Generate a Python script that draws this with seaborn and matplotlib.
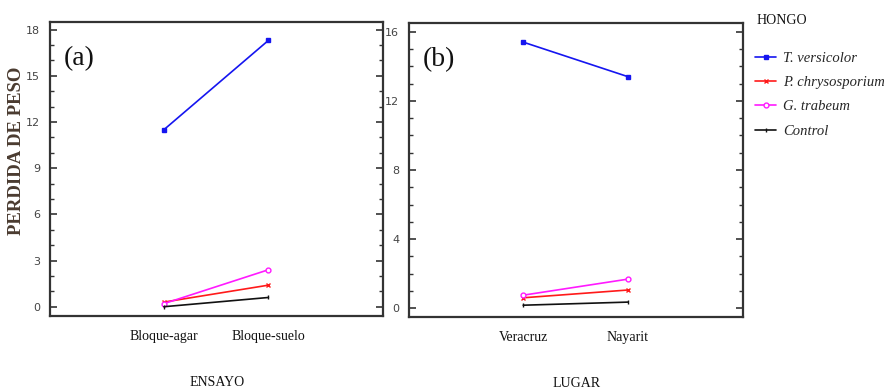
import pandas as pd
import matplotlib.pyplot as plt
import seaborn as sns
from matplotlib.ticker import MultipleLocator

# Data
hongos = ['T. versicolor', 'P. chrysosporium', 'G. trabeum', 'Control']
ensayos = ['Bloque-agar', 'Bloque-suelo']
lugares = ['Veracruz', 'Nayarit']

# (a) PERDIDA DE PESO by ENSAYO
ensayo_tv = [11.5, 17.3]
ensayo_pc = [0.3, 1.4]
ensayo_gt = [0.2, 2.4]
ensayo_ctrl = [0.0, 0.6]

# (b) PERDIDA DE PESO by LUGAR
lugar_tv = [15.4, 13.4]
lugar_pc = [0.6, 1.05]
lugar_gt = [0.75, 1.68]
lugar_ctrl = [0.17, 0.35]

colors = {'T. versicolor': '#1515f0', 'P. chrysosporium': '#ff1a1a',
          'G. trabeum': '#ff1aff', 'Control': '#111111'}
markers = {'T. versicolor': 's', 'P. chrysosporium': 'x',
           'G. trabeum': 'o', 'Control': '|'}


def build_df(cats, series, col):
    rows = []
    for h, vals in zip(hongos, series):
        for c, v in zip(cats, vals):
            rows.append({col: c, 'HONGO': h, 'PERDIDA DE PESO': v})
    return pd.DataFrame(rows)


df_a = build_df(ensayos, [ensayo_tv, ensayo_pc, ensayo_gt, ensayo_ctrl], 'ENSAYO')
df_b = build_df(lugares, [lugar_tv, lugar_pc, lugar_gt, lugar_ctrl], 'LUGAR')

sns.set_style("white")
plt.rcParams['font.family'] = ['DejaVu Sans']

fig = plt.figure(figsize=(8.84, 3.92), dpi=100)
ax1 = fig.add_axes([0.0566, 0.194, 0.377, 0.750])
ax2 = fig.add_axes([0.4627, 0.191, 0.378, 0.750])

serif = ['Liberation Serif', 'DejaVu Serif']
tick_col = '#444444'
spine_col = '#333333'


def draw(ax, df, col, ylim, major, label):
    for h in hongos:
        sub = df[df['HONGO'] == h]
        face = 'white' if markers[h] == 'o' else colors[h]
        sns.lineplot(data=sub, x=col, y='PERDIDA DE PESO', color=colors[h],
                     marker=markers[h], markersize=3.5, markeredgewidth=1.0,
                     markerfacecolor=face, markeredgecolor=colors[h],
                     linewidth=1.2, ax=ax)
    ax.set_xlim(-1.09, 2.1)
    ax.set_ylim(*ylim)
    ax.yaxis.set_major_locator(MultipleLocator(major))
    ax.yaxis.set_minor_locator(MultipleLocator(1))
    ax.tick_params(axis='y', which='both', direction='in', left=True, right=True,
                   colors=spine_col, labelcolor=tick_col, labelsize=8, pad=7)
    ax.tick_params(axis='y', which='major', length=5, width=1.2)
    ax.tick_params(axis='y', which='minor', length=3, width=1.0)
    ax.tick_params(axis='x', length=0, pad=10)
    for t in ax.get_xticklabels():
        t.set_fontfamily(serif)
        t.set_fontsize(10)
        t.set_color('#111111')
    for s in ax.spines.values():
        s.set_color(spine_col)
        s.set_linewidth(1.6)
    ax.set_xlabel(col, family=serif, fontsize=10, color='#111111', labelpad=24)
    ax.set_ylabel('')
    ax.text(0.04, 0.875, label, transform=ax.transAxes, family=serif,
            fontsize=20, va='center', ha='left', color='#111111')


draw(ax1, df_a, 'ENSAYO', (-0.6, 18.5), 3, '(a)')
draw(ax2, df_b, 'LUGAR', (-0.52, 16.5), 4, '(b)')

ax1.set_ylabel('PERDIDA DE PESO', family=serif, fontweight='bold', fontsize=13.5,
               color='#4a3b30', va='center')
ax1.yaxis.set_label_coords(-0.102, 0.56)

# legend outside panel (b)
fig.text(757 / 884, 1 - 20 / 392, 'HONGO', family=serif, fontsize=10,
         va='center', ha='left', color='#111111')
handles = [plt.Line2D([], [], color=colors[h], marker=markers[h], markersize=3.5,
                      markerfacecolor='white' if markers[h] == 'o' else colors[h],
                      linewidth=1.2) for h in hongos]
leg = fig.legend(handles, hongos, loc='upper left', bbox_to_anchor=(755 / 884, 1 - 52 / 392),
                 frameon=False, borderpad=0, borderaxespad=0,
                 handlelength=1.45, handletextpad=0.5, labelspacing=0.75,
                 prop={'family': serif, 'style': 'italic', 'size': 10.5})

fig.savefig('out.png', dpi=100)
